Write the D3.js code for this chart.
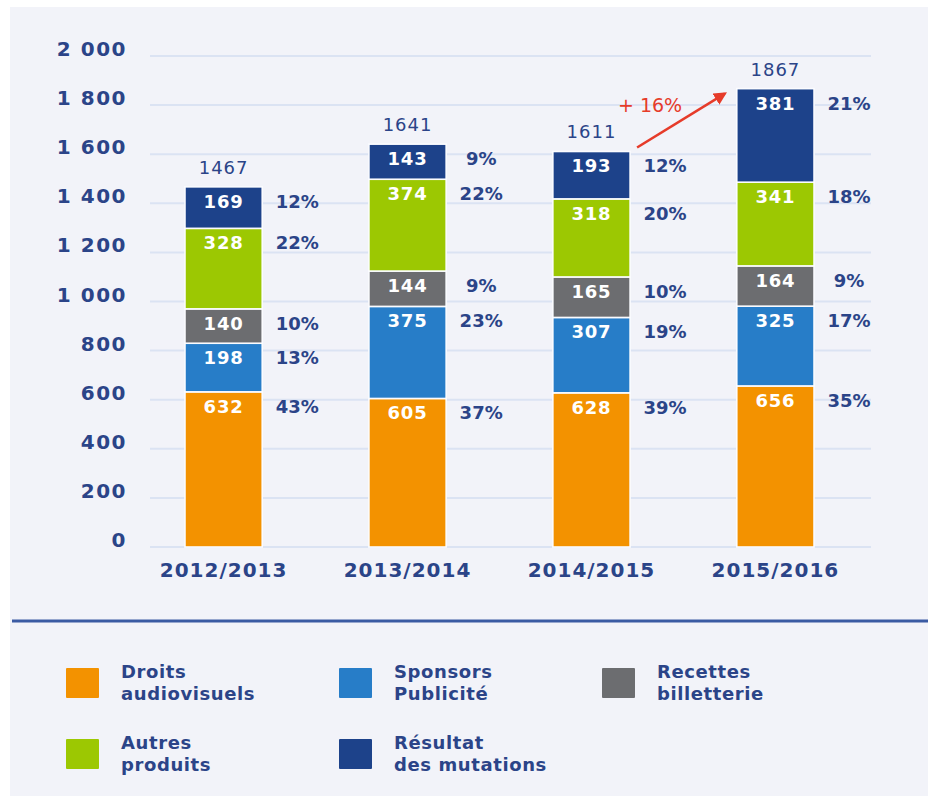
<!DOCTYPE html>
<html>
<head>
<meta charset="utf-8">
<script src="https://cdn.jsdelivr.net/npm/d3@7"></script>
<style>
  html, body { margin: 0; padding: 0; background: #ffffff; }
  svg { display: block; }
</style>
</head>
<body>
<script>
// ---------- DATA ----------
const seasons = ["2012/2013", "2013/2014", "2014/2015", "2015/2016"];
const seriesNames = ["Droits audiovisuels", "Sponsors Publicité", "Recettes billetterie", "Autres produits", "Résultat des mutations"];
const droits    = [632, 605, 628, 656];
const sponsors  = [198, 375, 307, 325];
const recettes  = [140, 144, 165, 164];
const autres    = [328, 374, 318, 341];
const mutations = [169, 143, 193, 381];
const totals    = [1467, 1641, 1611, 1867];
const pctDroits    = ["43%", "37%", "39%", "35%"];
const pctSponsors  = ["13%", "23%", "19%", "17%"];
const pctRecettes  = ["10%", "9%", "10%", "9%"];
const pctAutres    = ["22%", "22%", "20%", "18%"];
const pctMutations = ["12%", "9%", "12%", "21%"];
const yTicks = [0, 200, 400, 600, 800, 1000, 1200, 1400, 1600, 1800, 2000];
const yTickLabels = ["0", "200", "400", "600", "800", "1 000", "1 200", "1 400", "1 600", "1 800", "2 000"];
const growthLabel = "+ 16%";
const legendLines = [["Droits", "audiovisuels"], ["Sponsors", "Publicité"], ["Recettes", "billetterie"], ["Autres", "produits"], ["Résultat", "des mutations"]];

// ---------- STYLE ----------
const colors = ["#f39200", "#277dc8", "#6c6d70", "#9cc802", "#1d428a"];
const textBlue = "#2b4488";
const red = "#e63b2a";
const font = "'DejaVu Sans', sans-serif";

const W = 928, H = 796;
const svg = d3.select("body").append("svg").attr("width", W).attr("height", H);

// panel background
svg.append("rect").attr("x", 10).attr("y", 7).attr("width", W - 10).attr("height", H - 7).attr("fill", "#f2f3f9");

const x = d3.scaleBand().domain(seasons).range([93, 906]).paddingInner(0.58).paddingOuter(0.5);
const y = d3.scaleLinear().domain([0, 2000]).range([547, 56]);

// gridlines
svg.append("g").selectAll("line").data(yTicks).join("line")
  .attr("x1", 150).attr("x2", 871)
  .attr("y1", d => y(d)).attr("y2", d => y(d))
  .attr("stroke", "#dbe3f3").attr("stroke-width", 2);

// y tick labels (baseline on gridline)
svg.append("g").selectAll("text").data(yTicks).join("text")
  .attr("x", 127).attr("y", d => y(d))
  .attr("text-anchor", "end")
  .attr("font-family", font).attr("font-weight", "bold").attr("font-size", 20)
  .attr("letter-spacing", 1.5)
  .attr("fill", textBlue)
  .text((d, i) => yTickLabels[i]);

// stack
const rows = seasons.map((s, i) => ({ season: s, v: [droits[i], sponsors[i], recettes[i], autres[i], mutations[i]] }));
const seriesVals = [droits, sponsors, recettes, autres, mutations];
const pcts = [pctDroits, pctSponsors, pctRecettes, pctAutres, pctMutations];
const stack = d3.stack().keys([0, 1, 2, 3, 4]).value((d, k) => d.v[k]);
const stacked = stack(rows);

const gBars = svg.append("g");
stacked.forEach((layer, k) => {
  const g = gBars.append("g");
  g.selectAll("rect").data(layer).join("rect")
    .attr("x", d => x(d.data.season))
    .attr("y", d => y(d[1]))
    .attr("width", x.bandwidth())
    .attr("height", d => y(d[0]) - y(d[1]))
    .attr("fill", colors[k])
    .attr("stroke", "#fbfcff").attr("stroke-width", 1.6);
  // value labels
  g.selectAll("text.val").data(layer).join("text").attr("class", "val")
    .attr("x", d => x(d.data.season) + x.bandwidth() / 2)
    .attr("y", d => y(d[1]) + 21)
    .attr("text-anchor", "middle")
    .attr("font-family", font).attr("font-weight", "bold").attr("font-size", 18)
    .attr("letter-spacing", 0.8)
    .attr("fill", "#ffffff")
    .text((d, i) => seriesVals[k][i]);
  // percent labels
  g.selectAll("text.pct").data(layer).join("text").attr("class", "pct")
    .attr("x", d => x(d.data.season) + x.bandwidth() + 35)
    .attr("y", d => y(d[1]) + 21)
    .attr("text-anchor", "middle")
    .attr("font-family", font).attr("font-weight", "bold").attr("font-size", 18)
    .attr("fill", textBlue)
    .text((d, i) => pcts[k][i]);
});

// totals
svg.append("g").selectAll("text").data(seasons).join("text")
  .attr("x", d => x(d) + x.bandwidth() / 2)
  .attr("y", (d, i) => y(totals[i]) - 13)
  .attr("text-anchor", "middle")
  .attr("font-family", font).attr("font-size", 18).attr("letter-spacing", 1)
  .attr("fill", textBlue)
  .text((d, i) => totals[i]);

// category labels
svg.append("g").selectAll("text").data(seasons).join("text")
  .attr("x", d => x(d) + x.bandwidth() / 2)
  .attr("y", y(0) + 30)
  .attr("text-anchor", "middle")
  .attr("font-family", font).attr("font-weight", "bold").attr("font-size", 20)
  .attr("letter-spacing", 1)
  .attr("fill", textBlue)
  .text(d => d);

// growth arrow between last two seasons
const defs = svg.append("defs");
defs.append("marker").attr("id", "arrowhead")
  .attr("viewBox", "0 0 10 10").attr("refX", 8).attr("refY", 5)
  .attr("markerWidth", 5).attr("markerHeight", 5).attr("orient", "auto")
  .append("path").attr("d", "M0,0 L10,5 L0,10 Z").attr("fill", red);
const x3 = x(seasons[2]) + x.bandwidth(), x4 = x(seasons[3]);
const ax1 = x3 + 7, ay1 = y(totals[2]) - 4;
const ax2 = x4 - 12, ay2 = y(totals[3]) + 5;
svg.append("line")
  .attr("x1", ax1).attr("y1", ay1).attr("x2", ax2).attr("y2", ay2)
  .attr("stroke", red).attr("stroke-width", 2.6)
  .attr("marker-end", "url(#arrowhead)");
svg.append("text")
  .attr("x", x3 + 20).attr("y", 112)
  .attr("text-anchor", "middle")
  .attr("font-family", font).attr("font-size", 19)
  .attr("fill", red)
  .text(growthLabel);

// separator line
svg.append("line").attr("x1", 12).attr("x2", W).attr("y1", 621).attr("y2", 621)
  .attr("stroke", "#3b5ba3").attr("stroke-width", 3);

// legend
const legendPos = [[66, 668], [339, 668], [602, 668], [66, 739], [339, 739]];
const gLeg = svg.append("g");
seriesNames.forEach((name, k) => {
  const [lx, ly] = legendPos[k];
  gLeg.append("rect").attr("x", lx).attr("y", ly).attr("width", 33).attr("height", 30)
    .attr("fill", colors[k]).attr("rx", 1);
  const t = gLeg.append("text")
    .attr("font-family", font).attr("font-weight", "bold").attr("font-size", 18)
    .attr("letter-spacing", 0.6)
    .attr("fill", textBlue);
  legendLines[k].forEach((ln, j) => {
    t.append("tspan").attr("x", lx + 55).attr("y", ly + 10 + j * 22).text(ln);
  });
});
</script>
</body>
</html>
